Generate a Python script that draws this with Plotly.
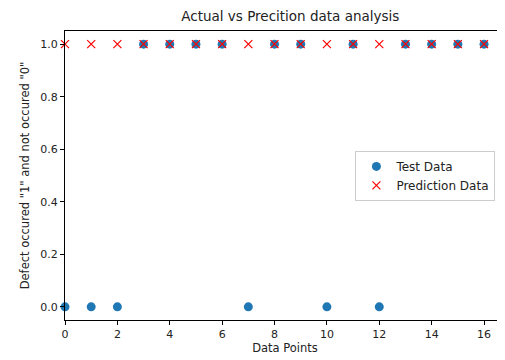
import plotly.graph_objects as go

x_points = list(range(17))
test_data = [0, 0, 0, 1, 1, 1, 1, 0, 1, 1, 0, 1, 0, 1, 1, 1, 1]
prediction_data = [1] * 17

fig = go.Figure()
fig.add_trace(go.Scatter(x=x_points, y=test_data, mode="markers", name="Test Data",
                         marker=dict(color="#1f77b4", size=9, symbol="circle"), cliponaxis=False))
fig.add_trace(go.Scatter(x=x_points, y=prediction_data, mode="markers", name="Prediction Data",
                         marker=dict(color="red", size=8, symbol="x-thin", line=dict(color="red", width=1.2)), cliponaxis=False))

font = "DejaVu Sans, sans-serif"
fig.update_layout(
    width=497, height=352,
    margin=dict(l=57, r=0, t=23, b=40),
    paper_bgcolor="white", plot_bgcolor="white",
    font=dict(family=font, size=11, color="#222"),
    title=dict(text="Actual vs Precition data analysis", x=0.568, xanchor="center", y=0.99, yanchor="top",
               font=dict(size=13.5, color="#222")),
    showlegend=True,
    legend=dict(x=0.66, y=0.585, xanchor="left", yanchor="top", bordercolor="#ccc", borderwidth=1,
                bgcolor="white", font=dict(size=12), itemwidth=30, tracegroupgap=0),
    xaxis=dict(range=[0, 16.8], tickvals=list(range(0, 17, 2)), showgrid=False, zeroline=False,
               automargin=False,
               showline=True, linecolor="black", linewidth=1, mirror=True, ticks="outside", ticklen=4,
               tickcolor="black", title=dict(text="Data Points", standoff=2, font=dict(size=11.5))),
    yaxis=dict(range=[-0.05, 1.05], tickvals=[0, 0.2, 0.4, 0.6, 0.8, 1.0],
               automargin=False,
               ticktext=["0.0", "0.2", "0.4", "0.6", "0.8", "1.0"], showgrid=False, zeroline=False,
               showline=True, linecolor="black", linewidth=1, mirror=True, ticks="outside", ticklen=4,
               tickcolor="black", title=dict(text='Defect occured "1" and not occured "0"', standoff=8,
                                             font=dict(size=11.5))),
)
fig.write_html("out.html")
